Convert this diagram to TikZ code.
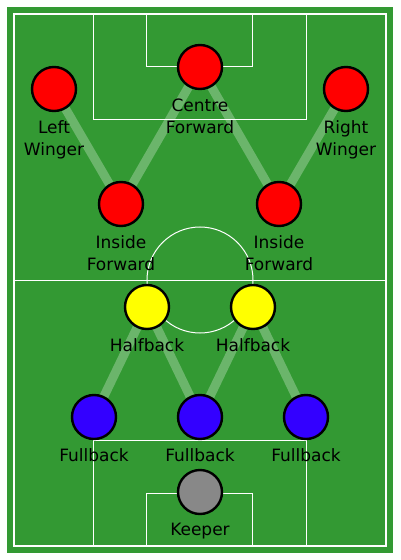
\documentclass[tikz,border=0pt]{standalone}
\usepackage{fontspec}
\setmainfont{DejaVu Sans}
\usetikzlibrary{positioning,backgrounds}
\definecolor{pitch}{HTML}{339933}
\definecolor{fwd}{HTML}{FF0000}
\definecolor{half}{HTML}{FFFF00}
\definecolor{back}{HTML}{3300FF}
\definecolor{keep}{HTML}{888888}
\tikzset{
  player/.style={circle, draw=black, line width=2.4pt, minimum size=44pt, inner sep=0pt, fill=#1},
  role/.style={align=center, inner sep=0pt, font=\fontsize{17}{22}\selectfont},
  link/.style={white, opacity=0.28, line width=9pt},
  marking/.style={white, line width=1pt}
}

\begin{document}
\begin{tikzpicture}[x=1pt, y=1pt]
  \def\gap{8pt}
  \def\wx{186}
  \def\wy{266}

  \useasboundingbox (-200,-280) rectangle (200,280);

  \node[player=fwd]  (lw)  at (-146, 191) {};
  \node[player=fwd]  (cf)  at (0, 213) {};
  \node[player=fwd]  (rw)  at (146, 191) {};
  \node[player=fwd]  (ifl) at (-79, 76) {};
  \node[player=fwd]  (ifr) at (79, 76) {};

  \node[player=half] (hbl) at (-53, -27) {};
  \node[player=half] (hbr) at (53, -27) {};

  \node[player=back] (fbl) at (-106, -137) {};
  \node[player=back] (fbc) at (0, -137) {};
  \node[player=back] (fbr) at (106, -137) {};

  \node[player=keep] (gk)  at (0, -212) {};

  \node[role, below=\gap of lw]  (lwt)  {Left\\Winger};
  \node[role, below=\gap of cf]  (cft)  {Centre\\Forward};
  \node[role, below=\gap of rw]  (rwt)  {Right\\Winger};
  \node[role, below=\gap of ifl] (iflt) {Inside\\Forward};
  \node[role, below=\gap of ifr] (ifrt) {Inside\\Forward};
  \node[role, below=\gap of hbl] (hblt) {Halfback};
  \node[role, below=\gap of hbr] (hbrt) {Halfback};
  \node[role, below=\gap of fbl] (fblt) {Fullback};
  \node[role, below=\gap of fbc] (fbct) {Fullback};
  \node[role, below=\gap of fbr] (fbrt) {Fullback};
  \node[role, below=\gap of gk]  (gkt)  {Keeper};

  \begin{scope}[on background layer]
    \fill[pitch] (-193,-273) rectangle (193,273);
    \draw[marking, line width=1.3pt] (-\wx,-\wy) rectangle (\wx,\wy);
    \draw[marking] (-\wx,0) -- (\wx,0);
    \draw[marking] (0,0) circle (53);
    \draw[marking] (-106,\wy) -- (-106,160) -- (106,160) -- (106,\wy);
    \draw[marking] (-53,\wy) -- (-53,213) -- (53,213) -- (53,\wy);
    \draw[marking] (-106,-\wy) -- (-106,-160) -- (106,-160) -- (106,-\wy);
    \draw[marking] (-53,-\wy) -- (-53,-213) -- (53,-213) -- (53,-\wy);
  \end{scope}

  \begin{scope}[on background layer]
    \draw[link] (lw) -- (ifl);
    \draw[link] (ifl) -- (cf);
    \draw[link] (cf) -- (ifr);
    \draw[link] (ifr) -- (rw);

    \draw[link] (hbl) -- (fbl);
    \draw[link] (hbl) -- (fbc);
    \draw[link] (hbr) -- (fbc);
    \draw[link] (hbr) -- (fbr);
  \end{scope}
\end{tikzpicture}
\end{document}
